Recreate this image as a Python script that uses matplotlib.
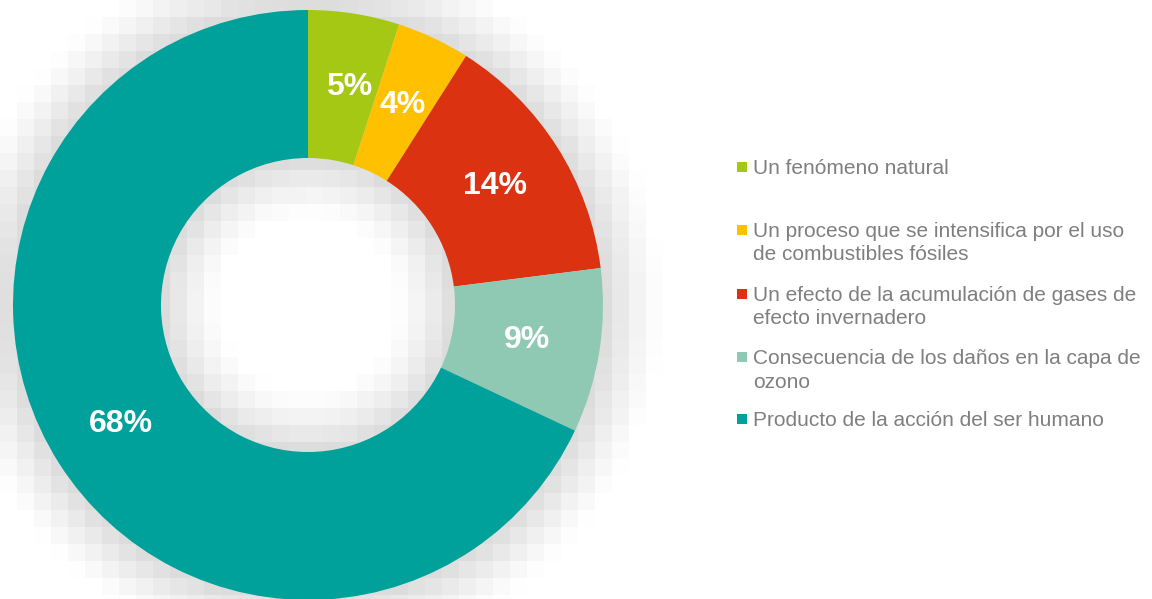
import numpy as np
import matplotlib
matplotlib.use("Agg")
import matplotlib.pyplot as plt
from matplotlib.patches import Rectangle
from matplotlib.transforms import ScaledTranslation

categories = [
    "Un fenómeno natural",
    "Un proceso que se intensifica por el uso\nde combustibles fósiles",
    "Un efecto de la acumulación de gases de\nefecto invernadero",
    "Consecuencia de los daños en la capa de\nozono",
    "Producto de la acción del ser humano",
]
values = [5, 4, 14, 9, 68]
colors = ["#A5C815", "#FFC000", "#DB3212", "#8FC9B4", "#00A19A"]

W, H = 1152, 599
plt.rcParams["font.family"] = ["Liberation Sans", "DejaVu Sans"]
fig = plt.figure(figsize=(W / 100, H / 100), dpi=100)
ax = fig.add_axes([0, 0, 1, 1])

cx, cy = 308, H - 305
R, Rin = 295, 147

# blocky soft shadow behind the ring
bs = 17
nx, ny = W // bs + 1, H // bs + 1
xs = (np.arange(nx) + 0.5) * bs
ys = (np.arange(ny) + 0.5) * bs
XX, YY = np.meshgrid(xs, ys)
rr = np.hypot(XX - cx, (H - YY) - cy)
d = np.where(rr > R, rr - R, np.where(rr < Rin, Rin - rr, 0))
dark = 0.14 * np.clip(1 - d / 62, 0, 1) ** 1.3
img = 1 - dark
ax.imshow(img, cmap="gray", vmin=0, vmax=1, extent=(0, nx * bs, H - ny * bs, H),
          interpolation="nearest", zorder=0, origin="upper")

wedges, texts, autotexts = ax.pie(
    values, colors=colors, startangle=90, counterclock=False,
    radius=R, center=(cx, cy), frame=True,
    wedgeprops=dict(width=R - Rin, linewidth=0),
    autopct="%1.0f%%", pctdistance=0.75,
    textprops=dict(color="white", fontsize=23, fontweight="bold"),
)
for w in wedges:
    w.set_zorder(2)
for t in autotexts:
    t.set_zorder(3)
x0, y0 = autotexts[0].get_position()
autotexts[0].set_position((x0 + 7, y0 - 1))

ax.set_xlim(0, W)
ax.set_ylim(0, H)
ax.set_aspect("equal")
ax.axis("off")

# legend
leg_y = [167, 230, 294, 357, 419]
shift = ax.transData + ScaledTranslation(0, 8 / 100, fig.dpi_scale_trans)
for lab, col, y in zip(categories, colors, leg_y):
    ax.add_patch(Rectangle((737, H - y - 5), 10, 10, facecolor=col, edgecolor="none", zorder=3))
    ax.text(753, H - y, lab, color="#7F7F7F", fontsize=15, va="top",
            ha="left", linespacing=1.3, zorder=3, transform=shift)

fig.savefig("out.png", dpi=100)
